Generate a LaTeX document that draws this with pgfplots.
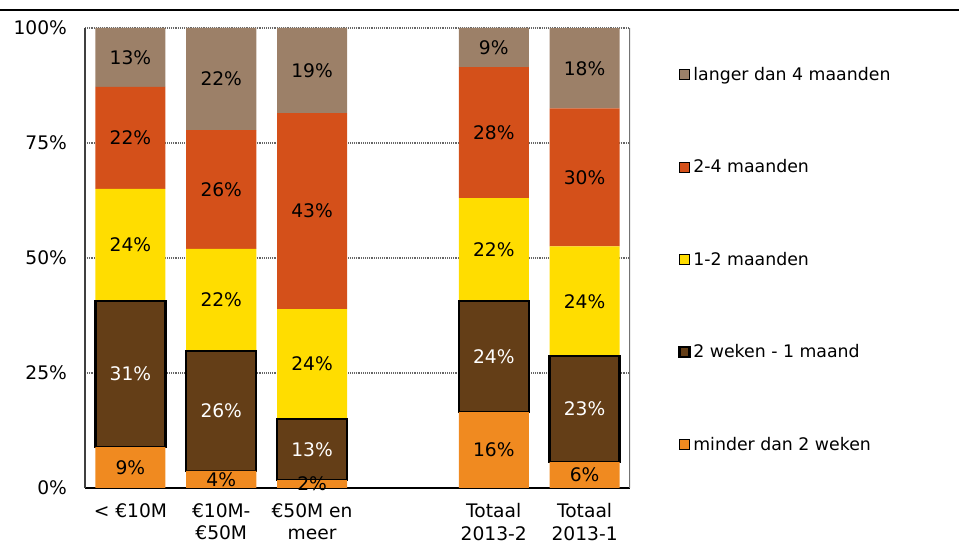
\documentclass[border=0pt]{standalone}
\usepackage{pgfplots}
\pgfplotsset{compat=1.18}
\usepackage{pgfplotstable}
\usepackage{fontspec}
\setmainfont{DejaVu Sans}
\definecolor{cGray}{HTML}{9C8068}
\definecolor{cRed}{HTML}{D4501A}
\definecolor{cYellow}{HTML}{FFDD00}
\definecolor{cDark}{HTML}{643E17}
\definecolor{cOrange}{HTML}{F08A20}

\pgfplotstableread{
x  a    la b    lb c    lc d    ld e    le
0  8.9  9  31.7 31 24.4 24 22.2 22 12.8 13
1  3.7  4  26.1 26 22.2 22 25.8 26 22.2 22
2  1.7  2  13.3 13 23.9 24 42.6 43 18.5 19
4  16.5 16 24.1 24 22.4 22 28.5 28 8.5  9
5  5.65 6  23.0 23 23.9 24 30.0 30 17.4 18
}\data

\pgfplotsset{
  sqleg/.style={legend image code/.code={\draw[##1] (0pt,-3.75pt) rectangle (7.5pt,3.75pt);}},
  common/.style={at={(0,0)}, anchor=south west,
    scale only axis, width=408.75pt, height=345pt,
    xmin=-0.5, xmax=5.5, ymin=0, ymax=100},
  lab/.style={only marks, mark=none, point meta=explicit symbolic,
    nodes near coords={\pgfplotspointmeta\%},
    every node near coord/.append style={anchor=center, inner sep=0pt,
      font=\fontsize{14}{16}\selectfont, text=#1}},
}

\begin{document}
\begin{tikzpicture}
\useasboundingbox (-63.75pt,-42.75pt) rectangle (655.5pt,366pt);
\draw[black, line width=1pt] (-63.75pt,358.5pt) -- (655.5pt,358.5pt);
\begin{axis}[
  common,
  ybar stacked, bar width=52.5pt,
  xtick={0,1,2,4,5},
  xticklabels={{< €10M},{€10M-\\€50M},{€50M en\\meer},{Totaal\\2013-2},{Totaal\\2013-1}},
  xticklabel style={align=center, font=\fontsize{14}{17}\selectfont, yshift=-8pt},
  ytick={0,25,50,75,100},
  yticklabels={0\%,25\%,50\%,75\%,100\%},
  yticklabel style={font=\fontsize{14}{16}\selectfont, xshift=-10pt},
  major tick length=0pt,
  axis x line*=bottom, axis y line*=left,
  x axis line style={black, line width=0.8pt},
  y axis line style={black!75, line width=1.2pt},
  ymajorgrids, major grid style={densely dotted, black!60, line width=0.8pt},
  legend style={draw=none, at={(1,1)}, anchor=north west, xshift=33pt, yshift=-25pt,
    row sep=54pt, font=\fontsize{13}{15}\selectfont, cells={anchor=west}},
  reverse legend,
]
\addplot[fill=cOrange, draw=none, sqleg] table[x=x, y=a] {\data};
\addlegendentry{minder dan 2 weken}
\addplot[fill=cDark, draw=black, line width=1.8pt, sqleg] table[x=x, y=b] {\data};
\addlegendentry{2 weken - 1 maand}
\addplot[fill=cYellow, draw=none, sqleg] table[x=x, y=c] {\data};
\addlegendentry{1-2 maanden}
\addplot[fill=cRed, draw=none, sqleg] table[x=x, y=d] {\data};
\addlegendentry{2-4 maanden}
\addplot[fill=cGray, draw=none, sqleg] table[x=x, y=e] {\data};
\addlegendentry{langer dan 4 maanden}
\draw[black!55, line width=0.8pt] (rel axis cs:1,0) -- (rel axis cs:1,1);
\end{axis}
\begin{axis}[common, hide axis]
\addplot[lab=black] table[x=x, y expr=\thisrow{a}/2, meta=la] {\data};
\addplot[lab=white] table[x=x, y expr=\thisrow{a}+\thisrow{b}/2, meta=lb] {\data};
\addplot[lab=black] table[x=x, y expr=\thisrow{a}+\thisrow{b}+\thisrow{c}/2, meta=lc] {\data};
\addplot[lab=black] table[x=x, y expr=\thisrow{a}+\thisrow{b}+\thisrow{c}+\thisrow{d}/2, meta=ld] {\data};
\addplot[lab=black] table[x=x, y expr=\thisrow{a}+\thisrow{b}+\thisrow{c}+\thisrow{d}+\thisrow{e}/2, meta=le] {\data};
\end{axis}
\end{tikzpicture}
\end{document}
